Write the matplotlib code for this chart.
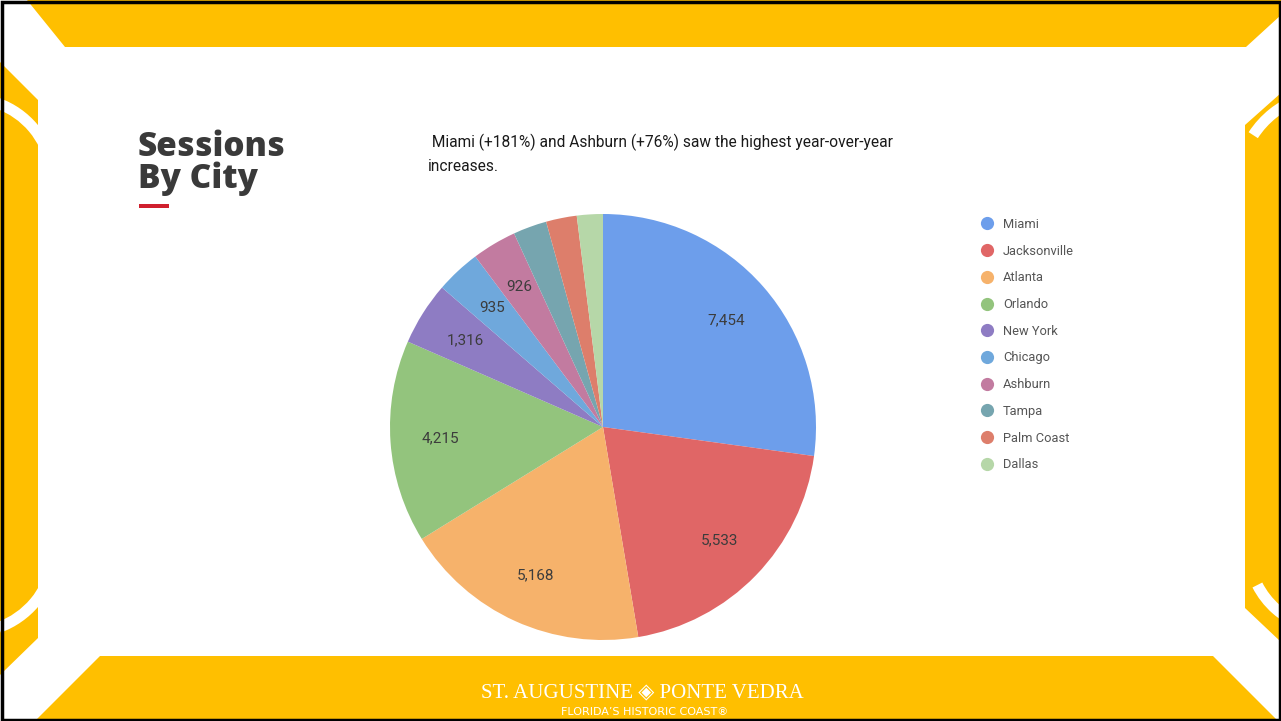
import numpy as np
import matplotlib.pyplot as plt
from matplotlib.patches import Polygon, Wedge, Rectangle
from matplotlib.lines import Line2D

cities = ["Miami", "Jacksonville", "Atlanta", "Orlando", "New York",
          "Chicago", "Ashburn", "Tampa", "Palm Coast", "Dallas"]
sessions = [7454, 5533, 5168, 4215, 1316, 935, 926, 700, 640, 540]
colors = ["#6D9EEB", "#E06666", "#F6B26B", "#93C47D", "#8E7CC3",
          "#6FA8DC", "#C27BA0", "#76A5AF", "#DD7E6B", "#B6D7A8"]
labelled = ["Miami", "Jacksonville", "Atlanta", "Orlando", "New York", "Chicago", "Ashburn"]

title = "Sessions\nBy City"
note = " Miami (+181%) and Ashburn (+76%) saw the highest year-over-year\nincreases."

W, H = 1281, 721
yellow = "#FFBF00"

fig = plt.figure(figsize=(W / 100, H / 100), dpi=100)
fig.patch.set_facecolor("white")

# background frame, drawn in pixel coords
bg = fig.add_axes([0, 0, 1, 1])
bg.set_xlim(0, W)
bg.set_ylim(H, 0)
bg.axis("off")

bands = [
    [(27, 0), (W, 0), (W, 15), (1246, 47), (65, 47)],
    [(0, 62), (38, 100), (38, 638), (0, 675)],
    [(1245, 125), (W, 93), (W, 642), (1245, 608)],
    [(100, 656), (1213, 656), (1278, H), (35, H)],
]
for pts in bands:
    bg.add_patch(Polygon(pts, closed=True, facecolor=yellow, edgecolor="none"))

# thin white arcs on the side bands
for acx, acy, rad, t1, t2 in [(-30, 181, 88, 290, 350), (-30, 548, 90, 10, 70),
                              (1330, 185, 97, 213, 250), (1330, 548, 87, 110, 153)]:
    bg.add_patch(Wedge((acx, acy), rad, t1, t2, width=11,
                       facecolor="white", edgecolor="none"))

bg.add_patch(Rectangle((1.5, 1.5), W - 3, H - 3, fill=False, edgecolor="black", linewidth=2.5))

# title and note
bg.text(138, 163, title, fontsize=24, fontweight="heavy", family="Open Sans",
        color="#3a3a3a", va="center", ha="left", linespacing=0.92)
bg.add_patch(Rectangle((139, 204), 30, 4, facecolor="#D0202E", edgecolor="none"))
bg.text(428, 154, note, fontsize=11.2, family="Roboto",
        color="#1a1a1a", va="center", ha="left", linespacing=1.72)

# footer logo
bg.text(642, 693, "ST. AUGUSTINE \u25C8 PONTE VEDRA", fontsize=15,
        family=["Liberation Serif", "DejaVu Sans"], color="white", ha="center", va="center")
bg.text(645, 712, "FLORIDA\u2019S HISTORIC COAST\u00AE", fontsize=8,
        family="DejaVu Sans", color="white", ha="center", va="center")

# pie
cx, cy, r = 603, 427, 213
ax = fig.add_axes([(cx - r) / W, (H - cy - r) / H, 2 * r / W, 2 * r / H])
wedges, _ = ax.pie(sessions, colors=colors, startangle=90, counterclock=False,
                   wedgeprops=dict(linewidth=0))
ax.set_xlim(-1, 1)
ax.set_ylim(-1, 1)

for wdg, city, val in zip(wedges, cities, sessions):
    if city not in labelled:
        continue
    ang = np.deg2rad((wdg.theta1 + wdg.theta2) / 2)
    ax.text(0.765 * np.cos(ang), 0.765 * np.sin(ang), f"{val:,}", ha="center", va="center",
            fontsize=11, family="Roboto", color="#3c3c3c")

handles = [Line2D([], [], marker="o", linestyle="none", markersize=9.5,
                  markerfacecolor=c, markeredgecolor="none") for c in colors]
fig.legend(handles, cities, loc="upper left", bbox_to_anchor=(981 / W, 1 - 218 / H),
           frameon=False, labelspacing=1.06, handletextpad=0.7,
           handlelength=1.0, borderaxespad=0, borderpad=0, labelcolor="#555555",
           prop={"family": "Roboto", "size": 9.3})

fig.savefig("out.png", dpi=100)
